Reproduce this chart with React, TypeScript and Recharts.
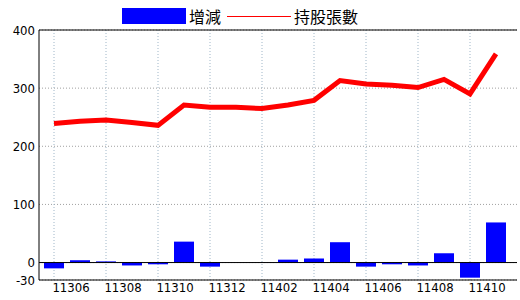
import React from "react";
import {
  ComposedChart,
  Bar,
  Line,
  XAxis,
  YAxis,
  CartesianGrid,
  ReferenceLine,
} from "recharts";

const months = [
  "11305", "11306", "11307", "11308", "11309", "11310", "11311", "11312",
  "11401", "11402", "11403", "11404", "11405", "11406", "11407", "11408",
  "11409", "11410",
];
const changes = [-10, 4, 2, -5, -3, 36, -7, 0, 0, 5, 7, 35, -7, -3, -5, 16, -26, 69];
const holdings = [239, 243, 245, 241, 236, 271, 267, 267, 265, 271, 279, 313, 307, 305, 301, 315, 290, 359];
const yTicks = [-30, 0, 100, 200, 300, 400];
const gridMonths = months.filter((_, i) => i % 2 === 0);

const data = months.map((m, i) => ({ month: m, change: changes[i], hold: holdings[i] }));

const NARROW = "'Liberation Sans Narrow', 'DejaVu Sans Condensed', 'Liberation Sans', sans-serif";
const CJK = "'Noto Sans CJK TC', 'Noto Sans CJK SC', sans-serif";

const XTick = (props: any) => {
  const { x, y, payload } = props;
  const idx = months.indexOf(payload.value);
  const label = months[idx + 1];
  if (!label) return null;
  return (
    <text x={x + 17} y={y} dy="0.71em" textAnchor="middle" fill="#000" fontSize={13} fontFamily={NARROW}>
      {label}
    </text>
  );
};

export default function App() {
  return (
    <div style={{ position: "absolute", left: 0, top: 0, width: 520, height: 300, background: "#fff" }}>
      <div
        style={{
          position: "absolute",
          left: 122,
          top: 4,
          height: 24,
          display: "flex",
          alignItems: "center",
          fontFamily: CJK,
          fontSize: 16,
          color: "#000",
          whiteSpace: "nowrap",
          zIndex: 2,
        }}
      >
        <span style={{ display: "inline-block", width: 64, height: 16, background: "#0000ff" }} />
        <span style={{ marginLeft: 3, lineHeight: "16px" }}>增減</span>
        <span style={{ display: "inline-block", width: 64, height: 1, background: "#ff0000", marginLeft: 6 }} />
        <span style={{ marginLeft: 3, lineHeight: "16px" }}>持股張數</span>
      </div>
      <ComposedChart
        width={520}
        height={300}
        data={data}
        margin={{ top: 30, right: 3, bottom: 0, left: 0 }}
      >
        <CartesianGrid horizontal={true} vertical={false} stroke="#a0a0a0" strokeDasharray="1 2" />
        <CartesianGrid horizontal={false} vertical={true} syncWithTicks stroke="#9fb6c8" strokeDasharray="1 2" />
        <XAxis
          dataKey="month"
          ticks={gridMonths}
          interval={0}
          tick={<XTick />}
          tickLine={false}
          tickSize={0}
          tickMargin={3}
          height={20}
          padding={{ left: 2, right: 8 }}
          axisLine={{ stroke: "#000" }}
        />
        <YAxis
          domain={[-30, 400]}
          ticks={yTicks}
          interval={0}
          width={39}
          tickLine={false}
          tickSize={0}
          tickMargin={4}
          axisLine={{ stroke: "#000" }}
          tick={{ fill: "#000", fontSize: 13, fontFamily: NARROW }}
          allowDataOverflow
        />
        <YAxis
          yAxisId="right"
          orientation="right"
          width={0}
          tick={false}
          tickLine={false}
          axisLine={{ stroke: "#000" }}
        />
        <Bar dataKey="change" fill="#0000ff" barSize={20} isAnimationActive={false} />
        <ReferenceLine y={0} stroke="#000" strokeWidth={1} />
        <ReferenceLine y={400} stroke="#000" strokeWidth={1} />
        <Line
          dataKey="hold"
          type="linear"
          stroke="#ff0000"
          strokeWidth={5}
          dot={false}
          isAnimationActive={false}
        />
      </ComposedChart>
    </div>
  );
}
